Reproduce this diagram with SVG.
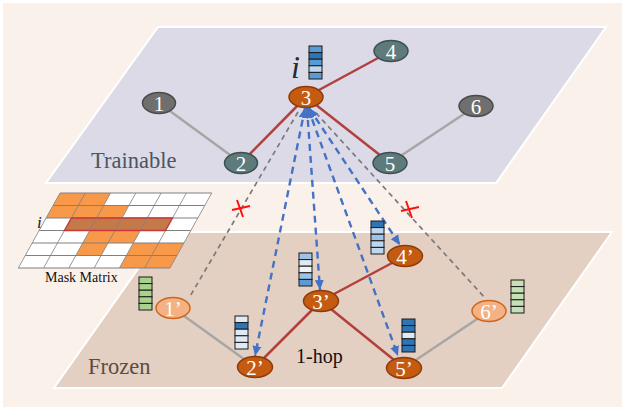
<svg xmlns="http://www.w3.org/2000/svg" width="627" height="411" viewBox="0 0 627 411">
<style>
.lbl{font-family:"Liberation Serif","Times New Roman",serif}
.nt{font-family:"Liberation Serif","Times New Roman",serif;font-size:21px;fill:#fff;text-anchor:middle}
.gray{fill:#6F6F6F;stroke:#4A4A4A;stroke-width:1.5}
.teal{fill:#5E7A7B;stroke:#3D4F50;stroke-width:1.5}
.dark{fill:#C55A11;stroke:#8C3B0B;stroke-width:1.5}
.light{fill:#F4B183;stroke:#D0651C;stroke-width:1.5}
.red{stroke:#B0413E;stroke-width:2.5;fill:none}
.ge{stroke:#A6A6A6;stroke-width:2.5;fill:none}
.gd{stroke:#7A7A7A;stroke-width:1.7;stroke-dasharray:5 4;fill:none}
.bd{stroke:#4472C4;stroke-width:2.4;stroke-dasharray:7 5;fill:none}
.vec rect{stroke:#1A1A1A;stroke-width:1}
.xm{stroke:#FF1010;stroke-width:2;fill:none}
.grid{stroke:#808080;stroke-width:0.8}
</style>
<defs>
<marker id="ah" viewBox="0 0 10 10" refX="10" refY="5" markerWidth="10" markerHeight="10" markerUnits="userSpaceOnUse" orient="auto-start-reverse">
<path d="M0,0.5 L10,5 L0,9.5 Z" fill="#4472C4"/>
</marker>
</defs>
<rect x="0" y="0" width="627" height="411" fill="#FFFFFF"/>
<rect x="3" y="3" width="619" height="404" fill="#FAF1EB"/>
<!-- planes -->
<polygon id="plane-trainable" points="158,27 606,27 496,183 46,183" fill="#DCDAE6" stroke="#FFFFFF" stroke-width="2"/>
<polygon id="plane-frozen" points="164,232 612,232 502,388 54,388" fill="#E4D0C2" stroke="#FFFFFF" stroke-width="2"/>
<!-- mask matrix -->
<g id="mask-matrix" transform="translate(60,193) skewX(-29.07)">
<rect x="0" y="0" width="151.7" height="75" fill="#FFFFFF"/>
<g fill="#F8994A">
<rect x="0" y="0" width="50.56" height="12.5"/>
<rect x="0" y="12.5" width="75.84" height="12.5"/>
<rect x="50.56" y="37.5" width="50.56" height="12.5"/>
<rect x="50.56" y="50" width="25.28" height="12.5"/>
<rect x="101.12" y="50" width="50.56" height="12.5"/>
<rect x="101.12" y="62.5" width="50.56" height="12.5"/>
</g>
<g class="grid">
<line x1="0" y1="0" x2="151.7" y2="0"/><line x1="0" y1="12.5" x2="151.7" y2="12.5"/><line x1="0" y1="25" x2="151.7" y2="25"/><line x1="0" y1="37.5" x2="151.7" y2="37.5"/><line x1="0" y1="50" x2="151.7" y2="50"/><line x1="0" y1="62.5" x2="151.7" y2="62.5"/><line x1="0" y1="75" x2="151.7" y2="75"/>
<line x1="0" y1="0" x2="0" y2="75"/><line x1="25.28" y1="0" x2="25.28" y2="75"/><line x1="50.56" y1="0" x2="50.56" y2="75"/><line x1="75.84" y1="0" x2="75.84" y2="75"/><line x1="101.12" y1="0" x2="101.12" y2="75"/><line x1="126.4" y1="0" x2="126.4" y2="75"/><line x1="151.7" y1="0" x2="151.7" y2="75"/>
</g>
<rect x="25.28" y="25" width="101.12" height="12.5" fill="#C47A48" stroke="#C8383A" stroke-width="1.5"/>
<g class="grid"><line x1="50.56" y1="25" x2="50.56" y2="37.5"/><line x1="75.84" y1="25" x2="75.84" y2="37.5"/><line x1="101.12" y1="25" x2="101.12" y2="37.5"/></g>
</g>
<text class="lbl" x="37" y="228" font-size="17" font-style="italic" fill="#1A1A1A">i</text>
<text class="lbl" x="45" y="282" font-size="14" fill="#111">Mask Matrix</text>
<!-- connectors -->
<g id="connectors">
<line class="ge" x1="159" y1="103" x2="241" y2="163"/>
<line class="red" x1="241" y1="163" x2="306" y2="97"/>
<line class="red" x1="306" y1="97" x2="391" y2="51"/>
<line class="red" x1="306" y1="97" x2="390" y2="163"/>
<line class="ge" x1="390" y1="163" x2="476" y2="106"/>
<line class="ge" x1="173" y1="308" x2="255" y2="367"/>
<line class="red" x1="255" y1="367" x2="321" y2="301"/>
<line class="red" x1="321" y1="301" x2="405" y2="256"/>
<line class="red" x1="321" y1="301" x2="404" y2="368"/>
<line class="ge" x1="404" y1="368" x2="489" y2="311"/>
<line class="gd" x1="298" y1="112" x2="189" y2="298"/>
<line class="gd" x1="316" y1="113" x2="486" y2="299"/>
<line class="bd" x1="305" y1="108" x2="255" y2="356" marker-start="url(#ah)" marker-end="url(#ah)"/>
<line class="bd" x1="307" y1="108" x2="320" y2="290" marker-start="url(#ah)" marker-end="url(#ah)"/>
<line class="bd" x1="309" y1="108" x2="400" y2="245" marker-start="url(#ah)" marker-end="url(#ah)"/>
<line class="bd" x1="308" y1="108" x2="398" y2="356" marker-start="url(#ah)" marker-end="url(#ah)"/>
<path class="xm" d="M232,210 L250,206 M237,200 L243,217"/>
<path class="xm" d="M401,211 L419,207 M406,201 L412,218"/>
</g>
<!-- upper nodes -->
<g id="n1"><ellipse class="gray" cx="159" cy="103" rx="16.5" ry="10.5"/><text class="nt" x="159" y="110.5">1</text></g>
<g id="n2"><ellipse class="teal" cx="241" cy="163" rx="16.5" ry="10.5"/><text class="nt" x="241" y="170.5">2</text></g>
<g id="n3"><ellipse class="dark" cx="306" cy="97" rx="17" ry="10.5"/><text class="nt" x="306" y="104.5">3</text></g>
<g id="n4"><ellipse class="teal" cx="391" cy="51" rx="17" ry="10.5"/><text class="nt" x="391" y="58.5">4</text></g>
<g id="n5"><ellipse class="teal" cx="390" cy="163" rx="17" ry="10.5"/><text class="nt" x="390" y="170.5">5</text></g>
<g id="n6"><ellipse class="gray" cx="476" cy="106" rx="17" ry="10.5"/><text class="nt" x="476" y="113.5">6</text></g>
<!-- lower nodes -->
<g id="n1p"><ellipse class="light" cx="173" cy="308" rx="17" ry="10.5"/><text class="nt" x="173" y="315.5">1’</text></g>
<g id="n2p"><ellipse class="dark" cx="255" cy="367" rx="17.5" ry="10.5"/><text class="nt" x="255" y="374.5">2’</text></g>
<g id="n3p"><ellipse class="dark" cx="321" cy="301" rx="17.5" ry="10.5"/><text class="nt" x="321" y="308.5">3’</text></g>
<g id="n4p"><ellipse class="dark" cx="405" cy="256" rx="17.5" ry="10.5"/><text class="nt" x="405" y="263.5">4’</text></g>
<g id="n5p"><ellipse class="dark" cx="404" cy="368" rx="17.5" ry="10.5"/><text class="nt" x="404" y="375.5">5’</text></g>
<g id="n6p"><ellipse class="light" cx="489" cy="311" rx="17" ry="10.5"/><text class="nt" x="489" y="318.5">6’</text></g>
<!-- feature vectors -->
<g class="vec" id="vec-i" transform="translate(309,46)">
<rect y="0" width="13" height="6.6" fill="#5B9BD5"/><rect y="6.6" width="13" height="6.6" fill="#2E75B6"/><rect y="13.2" width="13" height="6.6" fill="#5B9BD5"/><rect y="19.8" width="13" height="6.6" fill="#BDD7EE"/><rect y="26.4" width="13" height="6.6" fill="#5B9BD5"/>
</g>
<g class="vec" id="vec-2p" transform="translate(235,316)">
<rect y="0" width="13" height="6.6" fill="#DEEBF7"/><rect y="6.6" width="13" height="6.6" fill="#2E75B6"/><rect y="13.2" width="13" height="6.6" fill="#DEEBF7"/><rect y="19.8" width="13" height="6.6" fill="#DEEBF7"/><rect y="26.4" width="13" height="6.6" fill="#DEEBF7"/>
</g>
<g class="vec" id="vec-3p" transform="translate(299,253)">
<rect y="0" width="13" height="6.6" fill="#9DC3E6"/><rect y="6.6" width="13" height="6.6" fill="#DEEBF7"/><rect y="13.2" width="13" height="6.6" fill="#EEF4FA"/><rect y="19.8" width="13" height="6.6" fill="#9DC3E6"/><rect y="26.4" width="13" height="6.6" fill="#5B9BD5"/>
</g>
<g class="vec" id="vec-4p" transform="translate(371,221)">
<rect y="0" width="13" height="6.6" fill="#2E75B6"/><rect y="6.6" width="13" height="6.6" fill="#BDD7EE"/><rect y="13.2" width="13" height="6.6" fill="#9DC3E6"/><rect y="19.8" width="13" height="6.6" fill="#BDD7EE"/><rect y="26.4" width="13" height="6.6" fill="#BDD7EE"/>
</g>
<g class="vec" id="vec-5p" transform="translate(402,319)">
<rect y="0" width="13" height="6.6" fill="#2E75B6"/><rect y="6.6" width="13" height="6.6" fill="#2E75B6"/><rect y="13.2" width="13" height="6.6" fill="#DEEBF7"/><rect y="19.8" width="13" height="6.6" fill="#2E75B6"/><rect y="26.4" width="13" height="6.6" fill="#2E75B6"/>
</g>
<g class="vec" id="vec-1p" transform="translate(139,277)">
<rect y="0" width="13" height="6.6" fill="#A9D18E"/><rect y="6.6" width="13" height="6.6" fill="#A9D18E"/><rect y="13.2" width="13" height="6.6" fill="#A9D18E"/><rect y="19.8" width="13" height="6.6" fill="#A9D18E"/><rect y="26.4" width="13" height="6.6" fill="#A9D18E"/>
</g>
<g class="vec" id="vec-6p" transform="translate(511,280)">
<rect y="0" width="13" height="6.6" fill="#C5E0B4" stroke="#555"/><rect y="6.6" width="13" height="6.6" fill="#C5E0B4" stroke="#555"/><rect y="13.2" width="13" height="6.6" fill="#C5E0B4" stroke="#555"/><rect y="19.8" width="13" height="6.6" fill="#C5E0B4" stroke="#555"/><rect y="26.4" width="13" height="6.6" fill="#C5E0B4" stroke="#555"/>
</g>
<!-- labels -->
<text class="lbl" x="291" y="78" font-size="32" font-style="italic" fill="#1F2A3A">i</text>
<text class="lbl" x="91" y="168" font-size="22.5" fill="#4B5563">Trainable</text>
<text class="lbl" x="88" y="374" font-size="22.5" fill="#5C4B43">Frozen</text>
<text class="lbl" x="296" y="363" font-size="20" fill="#111">1-hop</text>
</svg>
